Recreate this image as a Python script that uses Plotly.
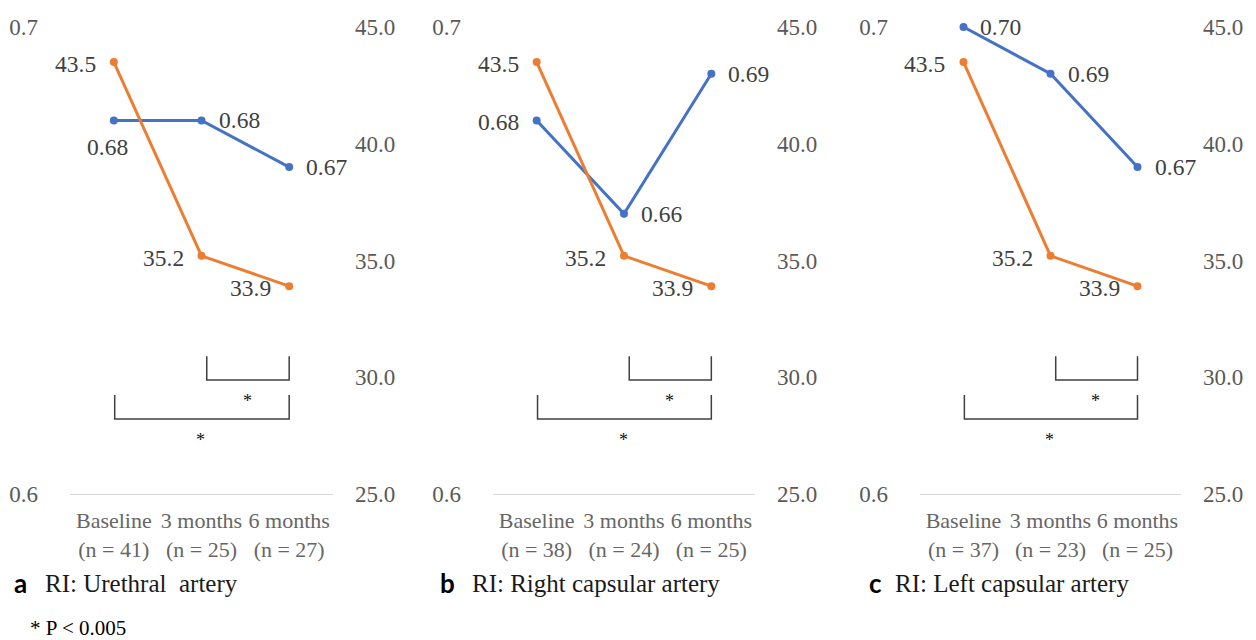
import plotly.graph_objects as go

# ---------------- data ----------------
categories = ["Baseline", "3 months", "6 months"]
n_a = [41, 25, 27]
n_b = [38, 24, 25]
n_c = [37, 23, 25]
ri_a = [0.68, 0.68, 0.67]
ri_b = [0.68, 0.66, 0.69]
ri_c = [0.70, 0.69, 0.67]
val_a = [43.5, 35.2, 33.9]
val_b = [43.5, 35.2, 33.9]
val_c = [43.5, 35.2, 33.9]
left_ticks = [0.6, 0.7]
right_ticks = [25, 30, 35, 40, 45]
panel_letters = ["a", "b", "c"]
panel_titles = ["RI: Urethral\u00a0 artery", "RI: Right capsular artery", "RI: Left capsular artery"]
footnote = "* P < 0.005"

# ---------------- layout config ----------------
W, H = 1256, 640
BLUE = "#4472C4"
ORANGE = "#ED7D31"
SERIF = "Liberation Serif, Times New Roman, serif"
plot_x = [(70, 333), (493, 755), (920, 1181)]
plot_y = (27, 494)
letter_x = [12, 438, 867]
title_x = [43, 470, 893]
blue_pos = [["below", "right", "right"], ["left", "right", "right"], ["right", "right", "right"]]
orange_pos = ["left", "left", "left"]

panels = [
    (n_a, ri_a, val_a),
    (n_b, ri_b, val_b),
    (n_c, ri_c, val_c),
]

fig = go.Figure()
annotations = []
shapes = []
ydom = [(H - plot_y[1]) / H, (H - plot_y[0]) / H]
xpos = list(range(len(categories)))


def shift_for(pos):
    if pos == "right":
        return dict(xanchor="left", xshift=15, yshift=0)
    if pos == "left":
        return dict(xanchor="right", xshift=-16, yshift=-2)
    return dict(xanchor="center", xshift=-6, yshift=-27)


for i, (n, ri, val) in enumerate(panels):
    k = i + 1
    xa = "x" if k == 1 else f"x{k}"
    yl = 2 * k - 1
    yr = 2 * k
    yla = "y" if yl == 1 else f"y{yl}"
    yra = f"y{yr}"
    ticktext = [f"{c}<br>(n = {m})" for c, m in zip(categories, n)]

    fig.add_trace(go.Scatter(x=xpos, y=ri, xaxis=xa, yaxis=yla, mode="lines+markers",
                             line=dict(color=BLUE, width=3), marker=dict(size=8, color=BLUE),
                             cliponaxis=False, showlegend=False, hoverinfo="skip"))
    fig.add_trace(go.Scatter(x=xpos, y=val, xaxis=xa, yaxis=yra, mode="lines+markers",
                             line=dict(color=ORANGE, width=3), marker=dict(size=8, color=ORANGE),
                             cliponaxis=False, showlegend=False, hoverinfo="skip"))

    x0, x1 = plot_x[i]
    xkey = "xaxis" if k == 1 else f"xaxis{k}"
    ylkey = "yaxis" if yl == 1 else f"yaxis{yl}"
    yrkey = f"yaxis{yr}"
    fig.layout[xkey] = dict(domain=[x0 / W, x1 / W], range=[-0.5, 2.5], anchor=yla,
                            tickvals=xpos, ticktext=ticktext, showline=True, tickangle=0,
                            linecolor="#D9D9D9", linewidth=1, showgrid=False, zeroline=False,
                            ticks="", ticklabelstandoff=7, automargin=False,
                            tickfont=dict(family=SERIF, size=22, color="#666666"), fixedrange=True)
    fig.layout[ylkey] = dict(domain=ydom, range=[0.6, 0.7], anchor=xa, tickvals=left_ticks,
                             tickformat=".1f", showgrid=False, zeroline=False, showline=False,
                             ticks="", ticklabelstandoff=31, automargin=False,
                             tickfont=dict(family=SERIF, size=23, color="#595959"))
    fig.layout[yrkey] = dict(domain=ydom, range=[25, 45], anchor=xa, overlaying=yla, side="right",
                             tickvals=right_ticks, tickformat=".1f", showgrid=False, zeroline=False,
                             showline=False, ticks="", ticklabelstandoff=21, automargin=False,
                             tickfont=dict(family=SERIF, size=23, color="#595959"))

    # data labels
    for j in range(len(categories)):
        annotations.append(dict(x=xpos[j], y=ri[j], xref=xa, yref=yla, text=f"{ri[j]:.2f}",
                                showarrow=False, yanchor="middle",
                                font=dict(family=SERIF, size=23.5, color="#404040"),
                                **shift_for(blue_pos[i][j])))
        annotations.append(dict(x=xpos[j], y=val[j], xref=xa, yref=yra, text=f"{val[j]:.1f}",
                                showarrow=False, yanchor="middle",
                                font=dict(family=SERIF, size=23.5, color="#404040"),
                                **shift_for(orange_pos[j])))

    # significance brackets (right-axis coordinates)
    shapes.append(dict(type="path", xref=xa, yref=yra,
                       path="M 1.06,30.9 L 1.06,29.88 L 2,29.88 L 2,30.9",
                       line=dict(color="#404040", width=1.5)))
    shapes.append(dict(type="path", xref=xa, yref=yra,
                       path="M 0.01,29.24 L 0.01,28.21 L 2,28.21 L 2,29.24",
                       line=dict(color="#404040", width=1.5)))
    annotations.append(dict(x=1.52, y=28.98, xref=xa, yref=yra, text="*", showarrow=False,
                            font=dict(family=SERIF, size=18, color="#111111")))
    annotations.append(dict(x=0.99, y=27.31, xref=xa, yref=yra, text="*", showarrow=False,
                            font=dict(family=SERIF, size=18, color="#111111")))

    # panel captions
    annotations.append(dict(x=letter_x[i] / W, y=(H - 583) / H, xref="paper", yref="paper",
                            text=f"<b>{panel_letters[i]}</b>", showarrow=False, xanchor="left",
                            yanchor="middle", font=dict(family="Lato, Open Sans, sans-serif",
                                                        size=26, color="#000000")))
    annotations.append(dict(x=title_x[i] / W, y=(H - 583) / H, xref="paper", yref="paper",
                            text=panel_titles[i], showarrow=False, xanchor="left",
                            yanchor="middle", font=dict(family=SERIF, size=25, color="#1a1a1a")))

annotations.append(dict(x=28 / W, y=(H - 628) / H, xref="paper", yref="paper", text=footnote,
                        showarrow=False, xanchor="left", yanchor="middle",
                        font=dict(family=SERIF, size=21, color="#000000")))

fig.update_layout(width=W, height=H, margin=dict(l=0, r=0, t=0, b=0, autoexpand=False),
                  paper_bgcolor="white", plot_bgcolor="white",
                  annotations=annotations, shapes=shapes, showlegend=False)

fig.write_html("out.html", config={"displayModeBar": False},
               post_script="document.body.style.margin='0';document.body.style.overflow='hidden';")
